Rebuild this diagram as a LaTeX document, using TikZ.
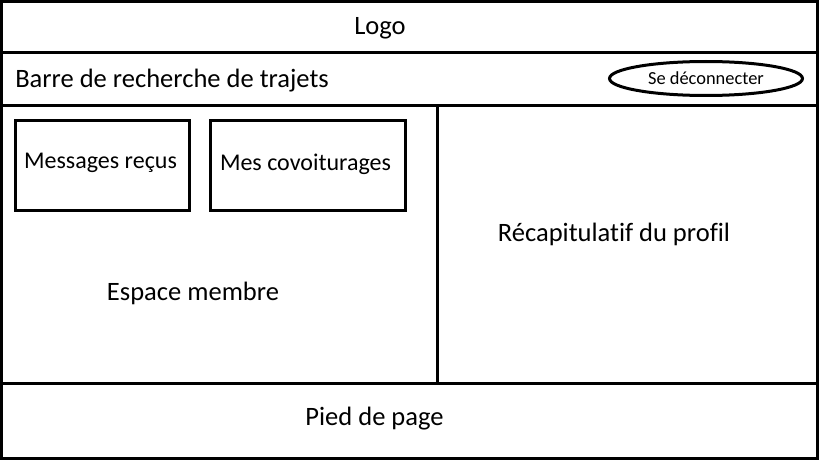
\documentclass[tikz,border=0pt]{standalone}
\usepackage{fontspec}
\setmainfont{Carlito}[Ligatures=NoCommon]
\usetikzlibrary{positioning,shapes.geometric}
\tikzset{
  frameline/.style={line width=2.25pt},
  label/.style={inner sep=0pt, anchor=base, font=\fontsize{19.9}{22}\selectfont},
  boxlabel/.style={inner sep=0pt, anchor=base, font=\fontsize{18}{21}\selectfont},
  smalllabel/.style={inner sep=0pt, anchor=base, font=\fontsize{13.8}{16}\selectfont},
  menubox/.style={draw, line width=2.25pt, minimum height=67.5pt, inner sep=0pt}
}
\begin{document}
\begin{tikzpicture}[x=0.75pt, y=-0.75pt]
          \useasboundingbox (0,0) rectangle (819,460);
          \begin{scope}
            % Page frame and bands
            \draw[frameline] (1.5,1.5) rectangle (817.5,458.5);
            \draw[frameline] (0,53) -- (819,53);
            \draw[frameline] (0,105.3) -- (819,105.3);
            \draw[frameline] (0,383) -- (819,383);
            \draw[frameline] (437,105.3) -- (437,383);

            % Band texts
            \node[label] (logo) at (380,35) {Logo};
            \node[label, anchor=base west] (search) at (15,88) {Barre de recherche de trajets};
            \node[draw, ellipse, line width=2.25pt, minimum width=144.75pt, minimum height=25.5pt, inner sep=0pt] (logout) at (706,78.5) {};
            \node[smalllabel] (logouttext) at (706,85) {Se déconnecter};

            % Member area
            \node[menubox, minimum width=130.5pt] (msgbox) at (102.5,165.5) {};
            \node[menubox, minimum width=146.25pt] (ridebox) at (308,165.5) {};
            \node[boxlabel] (msg) at (100.5,168.5) {Messages reçus};
            \node[boxlabel] (ride) at (305.5,171) {Mes covoiturages};
            \node[label] (member) at (193,300.7) {Espace membre};

            % Profile area and footer
            \node[label] (profile) at (614,242) {Récapitulatif du profil};
            \node[label] (footer) at (374.5,425.7) {Pied de page};
          \end{scope}
        \end{tikzpicture}
\end{document}
